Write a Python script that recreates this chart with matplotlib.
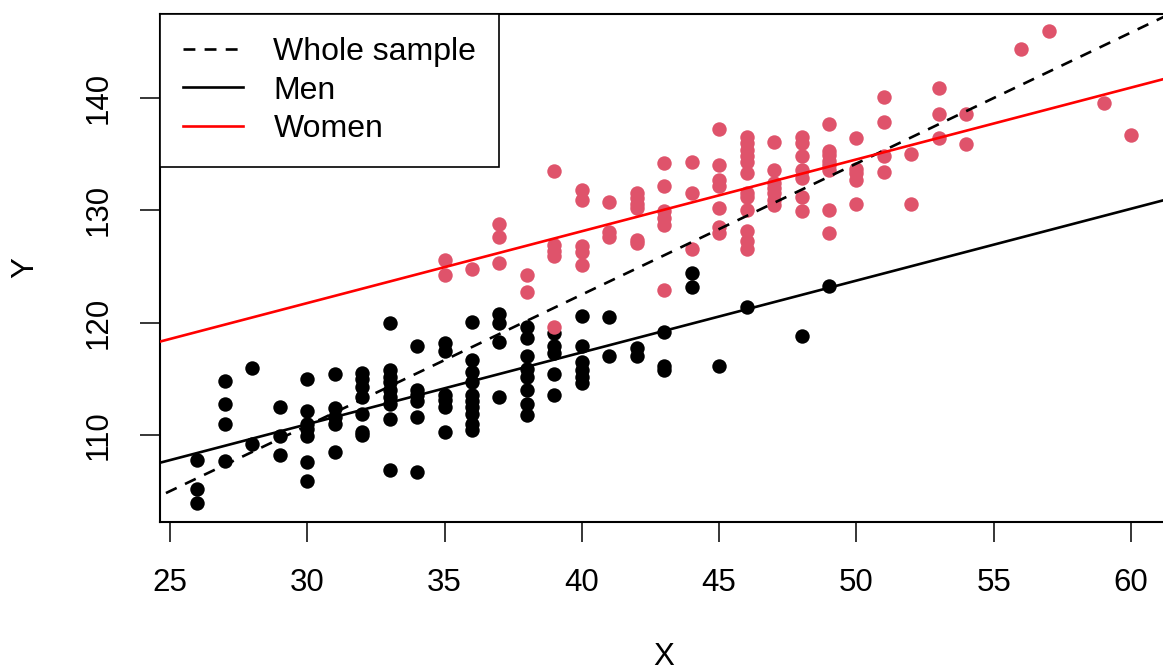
import numpy as np
import matplotlib
matplotlib.use('Agg')
import matplotlib.pyplot as plt

plt.rcParams['font.family'] = ['Liberation Sans', 'DejaVu Sans']

# men: x values and Y readings per x
men_x = ([26]*3 + [27]*4 + [28]*2 + [29]*3 + [30]*7 + [31]*5 + [32]*7 + [33]*9 +
         [34]*6 + [35]*6 + [36]*10 + [37]*4 + [38]*8 + [39]*5 + [40]*6 + [41]*2 +
         [42]*2 + [43]*3 + [44]*2 + [45, 46, 48, 49])
men_y = [107.8, 105.2, 103.9,
         114.8, 112.8, 111.0, 107.7,
         116.0, 109.2,
         112.5, 109.9, 108.2,
         115.0, 112.1, 111.0, 110.5, 109.9, 107.6, 105.9,
         115.4, 112.4, 111.6, 111.0, 108.5,
         115.5, 115.0, 114.3, 113.4, 111.9, 110.3, 110.0,
         120.0, 115.8, 115.2, 114.7, 114.0, 113.4, 112.8, 111.4, 106.9,
         117.9, 114.0, 113.6, 113.0, 111.6, 106.7,
         118.2, 117.5, 113.6, 113.1, 112.5, 110.3,
         120.1, 116.7, 115.6, 114.7, 113.6, 113.0, 112.5, 111.9, 111.0, 110.4,
         120.8, 120.0, 118.3, 113.4,
         119.6, 118.6, 117.0, 115.9, 115.2, 114.0, 112.8, 111.8,
         119.1, 117.9, 117.3, 115.4, 113.6,
         120.6, 117.9, 116.5, 115.8, 115.2, 114.6,
         120.5, 117.0,
         117.7, 117.0,
         119.2, 116.1, 115.8,
         124.4, 123.2,
         116.1, 121.4, 118.8, 123.3]

# women
women_x = ([35]*2 + [36] + [37]*3 + [38]*2 + [39]*5 + [40]*5 + [41]*3 + [42]*6 +
           [43]*6 + [44]*3 + [45]*7 + [46]*12 + [47]*7 + [48]*7 + [49]*8 + [50]*5 +
           [51]*4 + [52]*2 + [53]*3 + [54]*2 + [56, 57, 59, 60])
women_y = [125.6, 124.2,
           124.8,
           128.8, 127.6, 125.3,
           124.2, 122.7,
           133.5, 126.9, 126.4, 125.9, 119.6,
           131.8, 130.9, 126.8, 126.3, 125.1,
           130.7, 128.1, 127.6,
           131.5, 131.1, 130.6, 130.2, 127.4, 127.1,
           134.2, 132.2, 129.9, 129.3, 128.7, 122.9,
           134.3, 131.5, 126.6,
           137.2, 134.0, 132.7, 132.2, 130.2, 128.5, 128.0,
           136.5, 136.0, 135.4, 134.8, 134.3, 133.3, 131.5, 131.2, 130.0, 128.2, 127.3, 126.6,
           136.1, 133.6, 132.4, 132.0, 131.5, 130.9, 130.5,
           136.5, 136.0, 134.8, 133.6, 132.9, 131.2, 129.9,
           137.7, 135.3, 134.9, 134.4, 134.0, 133.6, 130.0, 128.0,
           136.4, 133.7, 133.3, 132.7, 130.6,
           140.1, 137.9, 134.8, 133.4,
           135.0, 130.6,
           140.9, 138.6, 136.4,
           138.6, 135.9,
           144.4, 146.0, 139.6, 136.7]

mx, my = np.array(men_x, float), np.array(men_y)
wx, wy = np.array(women_x, float), np.array(women_y)

# whole sample: simple regression of Y on X
ax_all = np.concatenate([mx, wx])
ay_all = np.concatenate([my, wy])
b_all, a_all = np.polyfit(ax_all, ay_all, 1)

# common slope with a shift for women: Y ~ X + sex
sex = np.concatenate([np.zeros(len(mx)), np.ones(len(wx))])
A = np.column_stack([np.ones_like(ax_all), ax_all, sex])
a_m, b_x, d_w = np.linalg.lstsq(A, ay_all, rcond=None)[0]

fig = plt.figure(figsize=(11.63, 6.70), dpi=100)
ax = fig.add_axes([160/1163, 1 - 522/670, 1008.4/1163, 508/670])

ax.scatter(mx, my, s=108, color='black', linewidths=0, zorder=2)
ax.scatter(wx, wy, s=108, color='#DF536B', linewidths=0, zorder=2)

xs = np.array([20, 70])
ax.plot(xs, a_all + b_all*xs, color='black', lw=1.9, dashes=(4.5, 3.5),
        label='Whole sample', zorder=3)
ax.plot(xs, a_m + b_x*xs, color='black', lw=1.9, label='Men', zorder=3)
ax.plot(xs, a_m + d_w + b_x*xs, color='red', lw=1.9, label='Women', zorder=3)

ax.set_xlim(24.64, 61.36)
ax.set_ylim(102.25, 147.48)
ax.set_xticks(range(25, 61, 5))
ax.set_yticks([110, 120, 130, 140])
ax.tick_params(direction='out', length=14.4, width=1.1, labelsize=22.5, pad=19)
ax.tick_params(axis='y', labelrotation=90)
for lab in ax.get_yticklabels():
    lab.set_verticalalignment('center')
for sp in ax.spines.values():
    sp.set_linewidth(1.5)

ax.set_xlabel('X', fontsize=22.5)
ax.xaxis.set_label_coords(0.5, -0.266)
ax.xaxis.label.set_verticalalignment('center')
ax.set_ylabel('Y', fontsize=22.5)
ax.yaxis.set_label_coords(-0.134, 0.5)
ax.yaxis.label.set_verticalalignment('center')

leg = ax.legend(loc='upper left', bbox_to_anchor=(0, 1), borderaxespad=0,
                fontsize=23, frameon=True, fancybox=False, edgecolor='black',
                framealpha=1, handlelength=1.88, handletextpad=0.95,
                labelspacing=0.27, borderpad=0.72)
leg.get_frame().set_linewidth(1.2)

fig.savefig('out.png', dpi=100)
